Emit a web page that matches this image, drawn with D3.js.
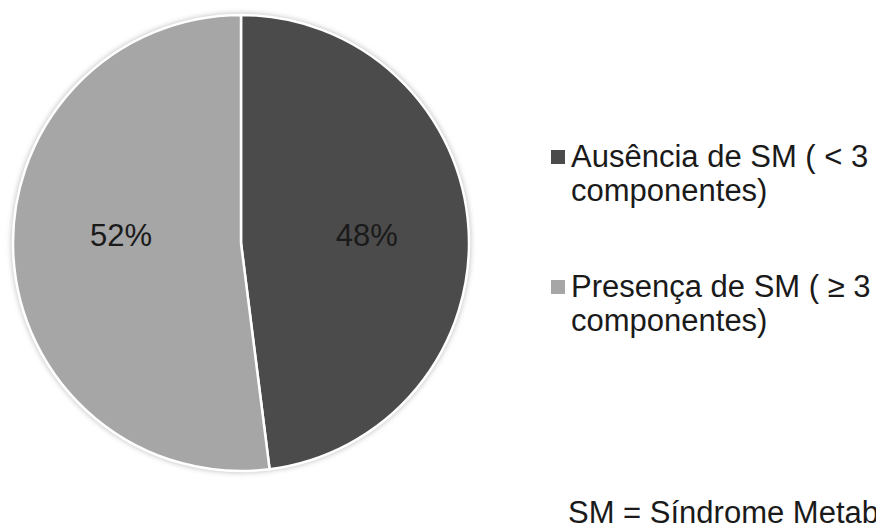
<!DOCTYPE html>
<html>
<head>
<meta charset="utf-8">
<script src="https://cdn.jsdelivr.net/npm/d3@7"></script>
<style>
  html, body { margin: 0; padding: 0; background: #fff; overflow: hidden; }
  svg { display: block; font-family: "Liberation Sans", Arial, sans-serif; }
</style>
</head>
<body>
<div id="chart"></div>
<script>
// data
const categories = ["Ausência de SM ( < 3 componentes)", "Presença de SM ( ≥ 3 componentes)"];
const values = [48, 52];
const legendLines = [["Ausência de SM ( < 3", "componentes)"], ["Presença de SM ( ≥ 3", "componentes)"]];
const note = "SM = Síndrome Metabólica";

const width = 876;
const height = 529;
const radius = 228;
const cx = 241, cy = 243;

const slices = categories.map((c, i) => ({ name: c, value: values[i] }));

const color = d3.scaleOrdinal()
    .domain(categories)
    .range(["#4b4b4b", "#a6a6a6"]);

const svg = d3.select("#chart")
    .append("svg")
        .attr("width", width)
        .attr("height", height);

// soft shadow behind the pie
const defs = svg.append("defs");
defs.append("filter")
    .attr("id", "shadow")
    .attr("x", "-10%").attr("y", "-10%")
    .attr("width", "120%").attr("height", "120%")
  .append("feGaussianBlur")
    .attr("stdDeviation", 2.5);

const g = svg.append("g")
    .attr("transform", `translate(${cx}, ${cy})`);

g.append("circle")
    .attr("r", radius + 2)
    .attr("fill", "#c8c8c8")
    .attr("filter", "url(#shadow)");

const pie = d3.pie()
    .value(d => d.value)
    .sort(null);

const arc = d3.arc()
    .innerRadius(0)
    .outerRadius(radius);

const labelArc = d3.arc()
    .innerRadius(radius * 0.54)
    .outerRadius(radius * 0.54);

g.selectAll("path")
    .data(pie(slices))
    .enter().append("path")
        .attr("d", arc)
        .attr("fill", d => color(d.data.name))
        .attr("stroke", "white")
        .attr("stroke-width", 2.5)
        .attr("stroke-linejoin", "round");

// labels sit a little above the horizontal, like the original
g.selectAll("text.pct")
    .data(pie(slices))
    .enter().append("text")
        .attr("class", "pct")
        .attr("transform", d => {
            const [x, y] = labelArc.centroid(d);
            return `translate(${x + 3}, ${-Math.abs(y)})`;
        })
        .attr("text-anchor", "middle")
        .attr("dy", "0.36em")
        .attr("font-size", 31)
        .attr("fill", "#1a1a1a")
        .text(d => `${d.data.value}%`);

// legend
const legend = svg.append("g")
    .attr("transform", "translate(551, 0)");

const item = legend.selectAll("g.item")
    .data(categories)
    .enter().append("g")
        .attr("class", "item")
        .attr("transform", (d, i) => `translate(0, ${167 + i * 130})`);

item.append("rect")
    .attr("x", 0)
    .attr("y", -17)
    .attr("width", 14)
    .attr("height", 14)
    .attr("fill", d => color(d));

item.append("text")
    .attr("x", 20)
    .attr("font-size", 31)
    .attr("fill", "#1a1a1a")
    .selectAll("tspan")
    .data((d, i) => legendLines[i])
    .enter().append("tspan")
        .attr("x", 20)
        .attr("dy", (d, j) => j === 0 ? 0 : 34)
        .text(d => d);

svg.append("text")
    .attr("x", 568)
    .attr("y", 523)
    .attr("font-size", 31)
    .attr("fill", "#1a1a1a")
    .text(note);
</script>
</body>
</html>
